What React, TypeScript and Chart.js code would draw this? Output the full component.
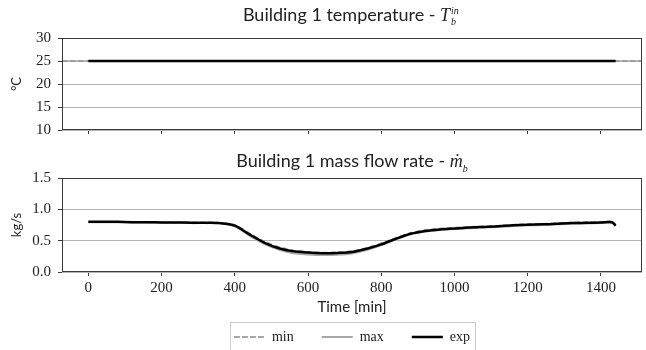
import React, { useEffect, useRef } from "react";
import { Chart, registerables } from "chart.js";
Chart.register(...registerables);

// ---- data ----
const timeTicks = [0, 200, 400, 600, 800, 1000, 1200, 1400];
const tempYTicks = [10, 15, 20, 25, 30];
const flowYTicks = [0, 0.5, 1.0, 1.5];

const tempExpTime = [0, 1440];
const tempExp = [25, 25];
const tempBoundTime = [-72, 1512];
const tempMin = [25, 25];
const tempMax = [25, 25];

const flowTime = [0, 40, 80, 120, 160, 200, 240, 280, 320, 360, 400, 440, 480, 520, 560, 600, 640, 680, 720, 760, 800, 840, 880, 920, 960, 1000, 1040, 1080, 1120, 1160, 1200, 1240, 1280, 1320, 1360, 1400, 1430, 1440];
const flowExp = [0.80, 0.80, 0.80, 0.795, 0.795, 0.79, 0.79, 0.787, 0.785, 0.78, 0.74, 0.60, 0.47, 0.38, 0.33, 0.31, 0.30, 0.305, 0.32, 0.37, 0.44, 0.53, 0.61, 0.655, 0.68, 0.695, 0.71, 0.72, 0.73, 0.745, 0.755, 0.76, 0.77, 0.78, 0.785, 0.79, 0.795, 0.74];
const flowMin = [0.80, 0.80, 0.80, 0.80, 0.80, 0.795, 0.795, 0.79, 0.79, 0.785, 0.75, 0.62, 0.49, 0.40, 0.345, 0.32, 0.31, 0.315, 0.335, 0.385, 0.46, 0.545, 0.625, 0.67, 0.695, 0.71, 0.72, 0.73, 0.74, 0.755, 0.765, 0.77, 0.78, 0.79, 0.795, 0.80, 0.805, 0.75];
const flowMax = [0.795, 0.795, 0.795, 0.79, 0.79, 0.785, 0.785, 0.78, 0.78, 0.775, 0.73, 0.58, 0.45, 0.36, 0.30, 0.28, 0.27, 0.275, 0.295, 0.35, 0.43, 0.52, 0.60, 0.645, 0.67, 0.685, 0.70, 0.71, 0.72, 0.735, 0.745, 0.75, 0.76, 0.77, 0.775, 0.78, 0.785, 0.735];

const seriesLabels = ["min", "max", "exp"];

const xs = (t: number[], v: number[]) => t.map((x, i) => ({ x, y: v[i] }));

const SERIF = "'Liberation Serif', 'DejaVu Serif', serif";
const SANS = "Lato, 'DejaVu Sans', sans-serif";

const framePlugin = {
  id: "frame",
  afterDatasetsDraw(chart: any) {
    const { ctx, chartArea } = chart;
    const { left, top, right, bottom } = chartArea;
    ctx.save();
    ctx.strokeStyle = "#3a3a3a";
    ctx.lineWidth = 1;
    ctx.strokeRect(Math.round(left) + 0.5, Math.round(top) + 0.5, Math.round(right - left) - 1, Math.round(bottom - top) - 1);
    ctx.restore();
  },
};

const legendBoxPlugin = {
  id: "legendBox",
  afterDraw(chart: any) {
    const lg = chart.legend;
    if (!lg || !lg.legendHitBoxes || !lg.legendHitBoxes.length) return;
    const boxes = lg.legendHitBoxes;
    let x0 = Infinity, x1 = -Infinity, y0 = Infinity, y1 = -Infinity;
    boxes.forEach((b: any) => {
      x0 = Math.min(x0, b.left);
      x1 = Math.max(x1, b.left + b.width);
      y0 = Math.min(y0, b.top);
      y1 = Math.max(y1, b.top + b.height);
    });
    const ctx = chart.ctx;
    ctx.save();
    ctx.strokeStyle = "#cccccc";
    ctx.lineWidth = 1;
    ctx.strokeRect(Math.round(x0 - 4) + 0.5, Math.round(y0 - 8) + 0.5, Math.round(x1 - x0 + 9), Math.round(y1 - y0 + 15));
    ctx.restore();
  },
};

function baseX(showLabels: boolean, height: number) {
  return {
    type: "linear" as const,
    min: -72,
    max: 1512,
    afterBuildTicks: (s: any) => {
      s.ticks = timeTicks.map((v) => ({ value: v }));
    },
    afterFit: (s: any) => {
      s.height = height;
    },
    grid: { drawOnChartArea: false, drawTicks: true, tickLength: 4, tickColor: "#3a3a3a" },
    border: { display: false },
    ticks: { display: showLabels, padding: 3, color: "#222", font: { family: SERIF, size: 15 }, callback: (v: any) => String(v) },
  };
}

function baseY(min: number, max: number, tickVals: number[], title: string, fmt: (v: number) => string) {
  return {
    type: "linear" as const,
    min,
    max,
    afterBuildTicks: (s: any) => {
      s.ticks = tickVals.map((v) => ({ value: v }));
    },
    afterFit: (s: any) => {
      s.width = 62;
    },
    grid: { color: "#b4b4b4", lineWidth: 1, drawTicks: true, tickLength: 4, tickColor: "#3a3a3a" },
    border: { display: false },
    ticks: { padding: 7, color: "#222", font: { family: SERIF, size: 15 }, callback: (v: any) => fmt(Number(v)) },
    title: { display: true, text: title, color: "#222", padding: { top: 9, bottom: 0 }, font: { family: SANS, size: 13 } },
  };
}

export default function App() {
  const topRef = useRef<HTMLCanvasElement>(null);
  const botRef = useRef<HTMLCanvasElement>(null);

  useEffect(() => {
    const top = new Chart(topRef.current!, {
      type: "line",
      data: {
        datasets: [
          { label: seriesLabels[0], data: xs(tempBoundTime, tempMin), borderColor: "#9a9a9a", borderWidth: 1.5, borderDash: [5, 3], pointRadius: 0, order: 1 },
          { label: seriesLabels[1], data: xs(tempBoundTime, tempMax), borderColor: "#a8a8a8", borderWidth: 1.5, pointRadius: 0, order: 2 },
          { label: seriesLabels[2], data: xs(tempExpTime, tempExp), borderColor: "#000000", borderWidth: 2.5, pointRadius: 0, order: 0 },
        ],
      },
      options: {
        animation: false,
        responsive: false,
        maintainAspectRatio: false,
        layout: { padding: { top: 38, right: 4, left: 0, bottom: 0 } },
        plugins: { legend: { display: false }, tooltip: { enabled: false } },
        scales: {
          x: baseX(false, 10),
          y: baseY(10, 30, tempYTicks, "°C", (v) => String(v)),
        },
      },
      plugins: [framePlugin],
    });

    const bot = new Chart(botRef.current!, {
      type: "line",
      data: {
        datasets: [
          { label: seriesLabels[0], data: xs(flowTime, flowMin), borderColor: "#8c8c8c", borderWidth: 1.5, borderDash: [5, 3], pointRadius: 0, tension: 0.3, order: 1 },
          { label: seriesLabels[1], data: xs(flowTime, flowMax), borderColor: "#a8a8a8", borderWidth: 2, pointRadius: 0, tension: 0.3, order: 2 },
          { label: seriesLabels[2], data: xs(flowTime, flowExp), borderColor: "#000000", borderWidth: 2.5, pointRadius: 0, tension: 0.3, order: 0 },
        ],
      },
      options: {
        animation: false,
        responsive: false,
        maintainAspectRatio: false,
        layout: { padding: { top: 38, right: 4, left: 0, bottom: 0 } },
        plugins: {
          tooltip: { enabled: false },
          legend: {
            position: "bottom",
            fullSize: false,
            labels: {
              usePointStyle: false,
              boxWidth: 31,
              boxHeight: 0,
              padding: 28,
              color: "#222",
              font: { family: SERIF, size: 14 },
              sort: (a: any, b: any) => a.datasetIndex - b.datasetIndex,
            },
          },
        },
        scales: {
          x: {
            ...baseX(true, 30),
            title: { display: true, text: "Time [min]", color: "#222", padding: { top: 0, bottom: -14 }, font: { family: SANS, size: 15 } },
          },
          y: baseY(0, 1.5, flowYTicks, "kg/s", (v) => v.toFixed(1)),
        },
      },
      plugins: [framePlugin, legendBoxPlugin],
    });

    return () => {
      top.destroy();
      bot.destroy();
    };
  }, []);

  const titleStyle: React.CSSProperties = {
    position: "absolute",
    left: 62,
    width: 580,
    textAlign: "center",
    fontFamily: SANS,
    fontSize: 18,
    color: "#222",
    whiteSpace: "nowrap",
    lineHeight: "20px",
  };

  return (
    <div style={{ position: "fixed", left: 0, top: 0, width: 646, height: 350, background: "#fff", overflow: "hidden" }}>
      <canvas ref={topRef} width={646} height={146} style={{ position: "absolute", left: 0, top: 0, width: 646, height: 146 }} />
      <canvas ref={botRef} width={646} height={214} style={{ position: "absolute", left: 0, top: 140, width: 646, height: 214 }} />
      <div style={{ ...titleStyle, top: 4 }}>
        Building 1 temperature - <i style={{ fontFamily: SERIF }}>T</i>
        <span style={{ display: "inline-block", position: "relative", width: 11, height: 0 }}>
          <span style={{ position: "absolute", left: 1, bottom: 5, fontSize: 10, fontStyle: "italic", fontFamily: SERIF, lineHeight: "10px" }}>in</span>
          <span style={{ position: "absolute", left: 1, top: -4, fontSize: 10, fontStyle: "italic", fontFamily: SERIF, lineHeight: "10px" }}>b</span>
        </span>
      </div>
      <div style={{ ...titleStyle, top: 150 }}>
        Building 1 mass flow rate - <i style={{ fontFamily: SERIF }}>ṁ</i>
        <sub style={{ fontSize: 10, fontStyle: "italic", fontFamily: SERIF }}>b</sub>
      </div>
    </div>
  );
}
